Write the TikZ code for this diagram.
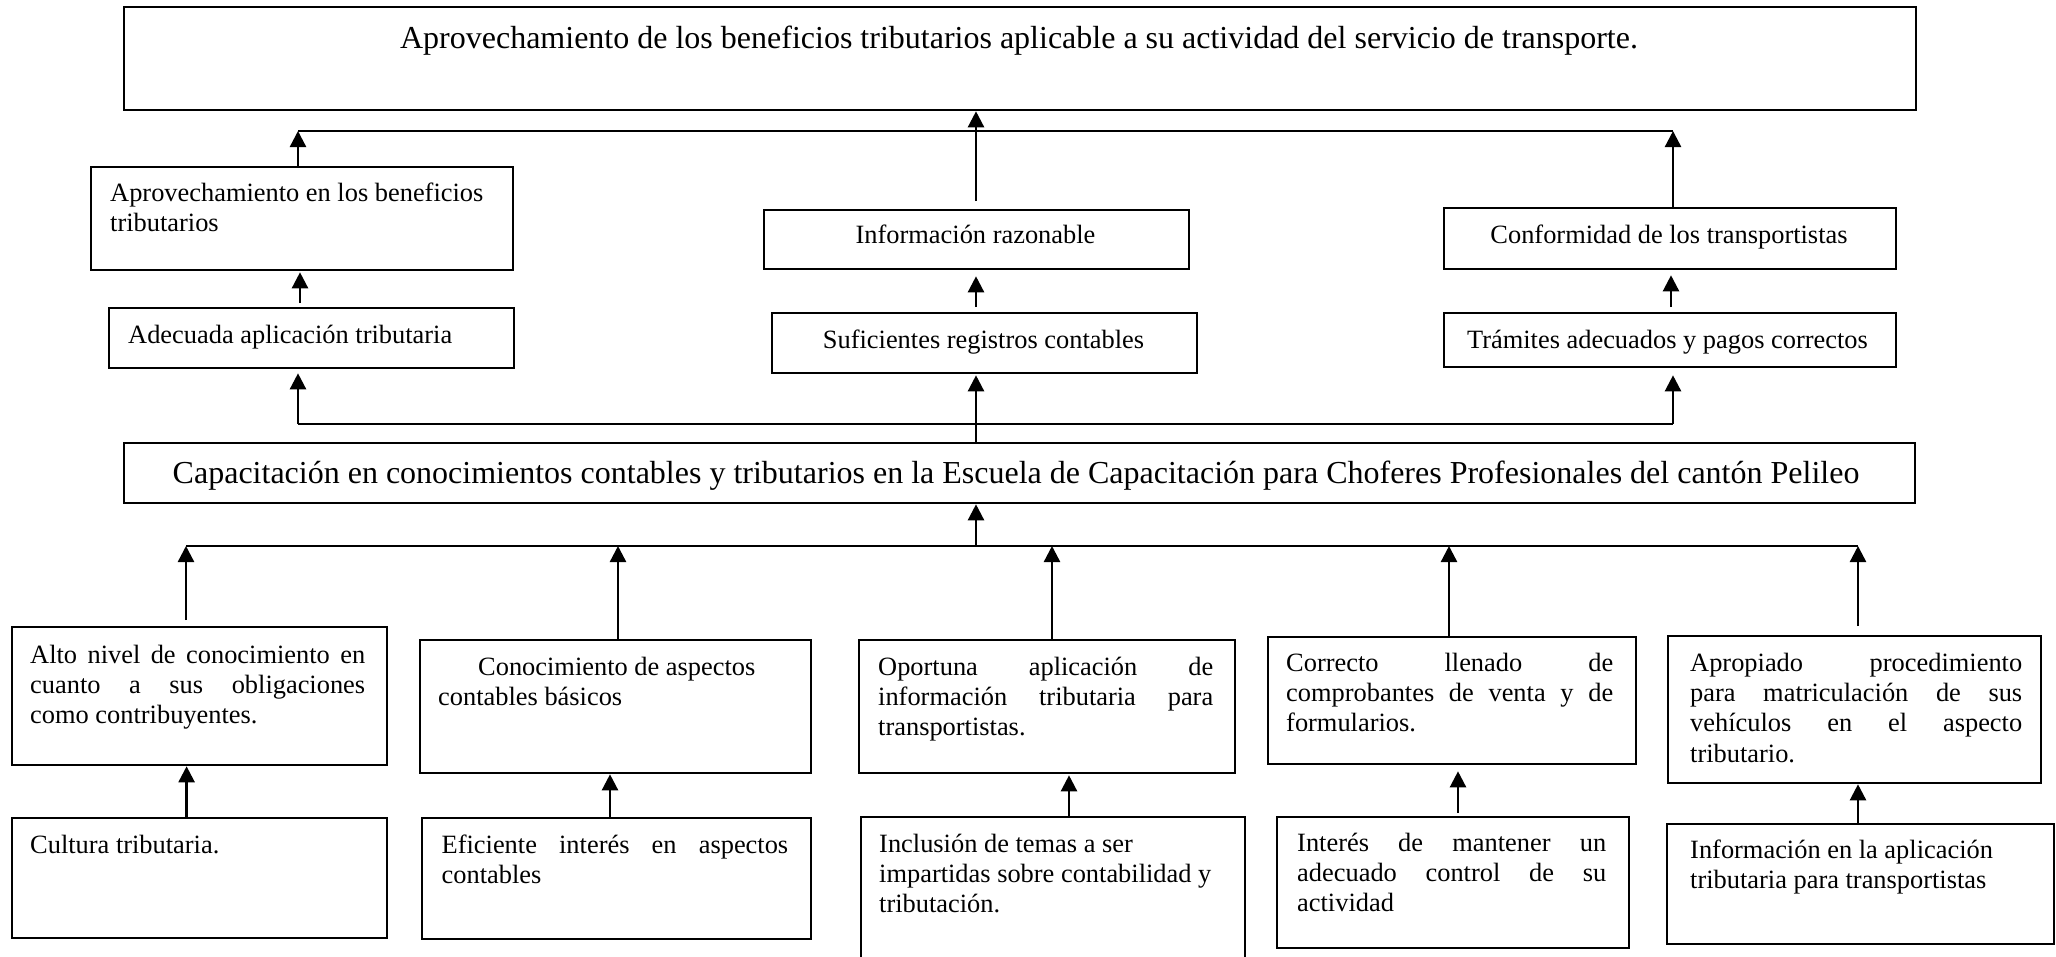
\documentclass[tikz,border=0pt]{standalone}
\usepackage{fontspec}
\setmainfont{Liberation Serif}
\usetikzlibrary{arrows.meta}
\newcommand{\fsn}{\fontsize{26.4}{30.4}\selectfont}
\newcommand{\fsb}{\fontsize{32}{36}\selectfont}
\newcommand{\jl}[2]{\makebox[#1pt][s]{#2}}
\begin{document}
\begin{tikzpicture}[x=1pt,y=-1pt,
 box/.style={draw, line width=2.3pt, inner sep=0pt, anchor=north west},
 ptxt/.style={inner sep=0pt, anchor=north west, align=left, font=\fsn},
 ctxt/.style={inner sep=0pt, anchor=base, font=\fsn},
 conn/.style={line width=2.4pt},
 arr/.style={line width=2.4pt, -{Triangle[length=16pt,width=16pt]}},
]
\useasboundingbox (0,0) rectangle (2056,956);
% boxes
\node[box, minimum width=1792pt, minimum height=103pt] (nTop) at (123,6) {};
\node[box, minimum width=422pt, minimum height=103pt] (a1) at (90,166) {};
\node[box, minimum width=425pt, minimum height=59pt] (a2) at (763,209) {};
\node[box, minimum width=452pt, minimum height=61pt] (a3) at (1443,207) {};
\node[box, minimum width=405pt, minimum height=60pt] (d1) at (108,307) {};
\node[box, minimum width=425pt, minimum height=60pt] (d2) at (771,312) {};
\node[box, minimum width=452pt, minimum height=54pt] (d3) at (1443,312) {};
\node[box, minimum width=1791pt, minimum height=60pt] (cap) at (123,442) {};
\node[box, minimum width=375.5pt, minimum height=138pt] (b1) at (10.5,626) {};
\node[box, minimum width=391pt, minimum height=133pt] (b2) at (418.5,639) {};
\node[box, minimum width=376.5pt, minimum height=133pt] (b3) at (857.5,639) {};
\node[box, minimum width=368pt, minimum height=127pt] (b4) at (1266.5,636) {};
\node[box, minimum width=373pt, minimum height=147pt] (b5) at (1667,635) {};
\node[box, minimum width=375.5pt, minimum height=120pt] (c1) at (10.5,817) {};
\node[box, minimum width=388.5pt, minimum height=121pt] (c2) at (421,817) {};
\node[box, minimum width=384pt, minimum height=160pt] (c3) at (860,816) {};
\node[box, minimum width=352pt, minimum height=131pt] (c4) at (1276,816) {};
\node[box, minimum width=387pt, minimum height=120pt] (c5) at (1666,823) {};
% texts
\node[ctxt, font=\fsb] (ttl) at (1019,48) {Aprovechamiento de los beneficios tributarios aplicable a su actividad del servicio de transporte.};
\node[ptxt] (ta1) at (110,179.7) {\strut Aprovechamiento en los beneficios\\ tributarios};
\node[ctxt] (ta2) at (975.5,243) {Información razonable};
\node[ctxt] (ta3) at (1669,243) {Conformidad de los transportistas};
\node[ptxt] (td1) at (128,321.7) {\strut Adecuada aplicación tributaria};
\node[ctxt] (td2) at (983.5,348) {Suficientes registros contables};
\node[ctxt] (td3) at (1667.5,348) {Trámites adecuados y pagos correctos};
\node[ctxt, font=\fsb] (tcap) at (1016,483) {Capacitación en conocimientos contables y tributarios en la Escuela de Capacitación para Choferes Profesionales del cantón Pelileo};
\node[ptxt] (tb1) at (30,641.7) {\strut\jl{335}{Alto nivel de conocimiento en}\\ \jl{335}{cuanto a sus obligaciones}\\ como contribuyentes.};
\node[ptxt] (tb2) at (438,653.7) {\strut\hspace*{40pt}Conocimiento de aspectos\\ contables básicos};
\node[ptxt] (tb3) at (878,653.7) {\strut\jl{335}{Oportuna aplicación de}\\ \jl{335}{información tributaria para}\\ transportistas.};
\node[ptxt] (tb4) at (1286,649.7) {\strut\jl{327}{Correcto llenado de}\\ \jl{327}{comprobantes de venta y de}\\ formularios.};
\node[ptxt] (tb5) at (1690,649.7) {\strut\jl{332}{Apropiado procedimiento}\\ \jl{332}{para matriculación de sus}\\ \jl{332}{vehículos en el aspecto}\\ tributario.};
\node[ptxt] (tc1) at (30,831.7) {\strut Cultura tributaria.};
\node[ptxt] (tc2) at (441.5,831.7) {\strut\jl{346.5}{Eficiente interés en aspectos}\\ contables};
\node[ptxt] (tc3) at (879,830.7) {\strut Inclusión de temas a ser\\ impartidas sobre contabilidad y\\ tributación.};
\node[ptxt] (tc4) at (1297,829.7) {\strut\jl{309}{Interés de mantener un}\\ \jl{309}{adecuado control de su}\\ actividad};
\node[ptxt] (tc5) at (1690,836.7) {\strut Información en la aplicación\\ tributaria para transportistas};
% upper connectors
\coordinate (u1) at (298,131); \coordinate (u3) at (1673,131); \coordinate (k) at (976,0);
\draw[conn] (u1) -- (u3);
\draw[arr] (a1.north -| u1) -- (u1);
\draw[arr] (a3.north -| u3) -- (u3);
\draw[arr, shorten <=8pt] (a2.north -| k) -- (nTop.south -| k);
\coordinate (v1) at (300,0); \coordinate (v3) at (1671,0);
\draw[arr, shorten <=4pt, shorten >=1pt] (d1.north -| v1) -- (a1.south -| v1);
\draw[arr, shorten <=5pt, shorten >=6pt] (d2.north -| k) -- (a2.south -| k);
\draw[arr, shorten <=5pt, shorten >=5pt] (d3.north -| v3) -- (a3.south -| v3);
\coordinate (l1) at (298,424); \coordinate (l3) at (1673,424);
\draw[conn] (l1) -- (l3);
\draw[arr, shorten >=4pt] (l1) -- (d1.south -| l1);
\draw[arr, shorten >=7pt] (l3) -- (d3.south -| l3);
\draw[arr, shorten >=1pt] (cap.north -| k) -- (d2.south -| k);
% lower connectors
\coordinate (m0) at (976,546);
\coordinate (n1) at (186,546); \coordinate (n2) at (618,546); \coordinate (n3) at (1052,546);
\coordinate (n4) at (1449,546); \coordinate (n5) at (1858,546);
\draw[conn] (n1) -- (n5);
\draw[arr] (m0) -- (cap.south -| m0);
\draw[arr, shorten <=6pt] (b1.north -| n1) -- (n1);
\draw[arr] (b2.north -| n2) -- (n2);
\draw[arr] (b3.north -| n3) -- (n3);
\draw[arr] (b4.north -| n4) -- (n4);
\draw[arr, shorten <=9pt] (b5.north -| n5) -- (n5);
\coordinate (p1) at (186.6,0); \coordinate (p2) at (610,0); \coordinate (p3) at (1069,0);
\coordinate (p4) at (1458,0); \coordinate (p5) at (1858,0);
\draw[arr] (c1.north -| p1) -- (b1.south -| p1);
\draw[arr] (c2.north -| p2) -- (b2.south -| p2);
\draw[arr, shorten >=1pt] (c3.north -| p3) -- (b3.south -| p3);
\draw[arr, shorten <=3pt, shorten >=6pt] (c4.north -| p4) -- (b4.south -| p4);
\draw[arr] (c5.north -| p5) -- (b5.south -| p5);
\end{tikzpicture}
\end{document}
